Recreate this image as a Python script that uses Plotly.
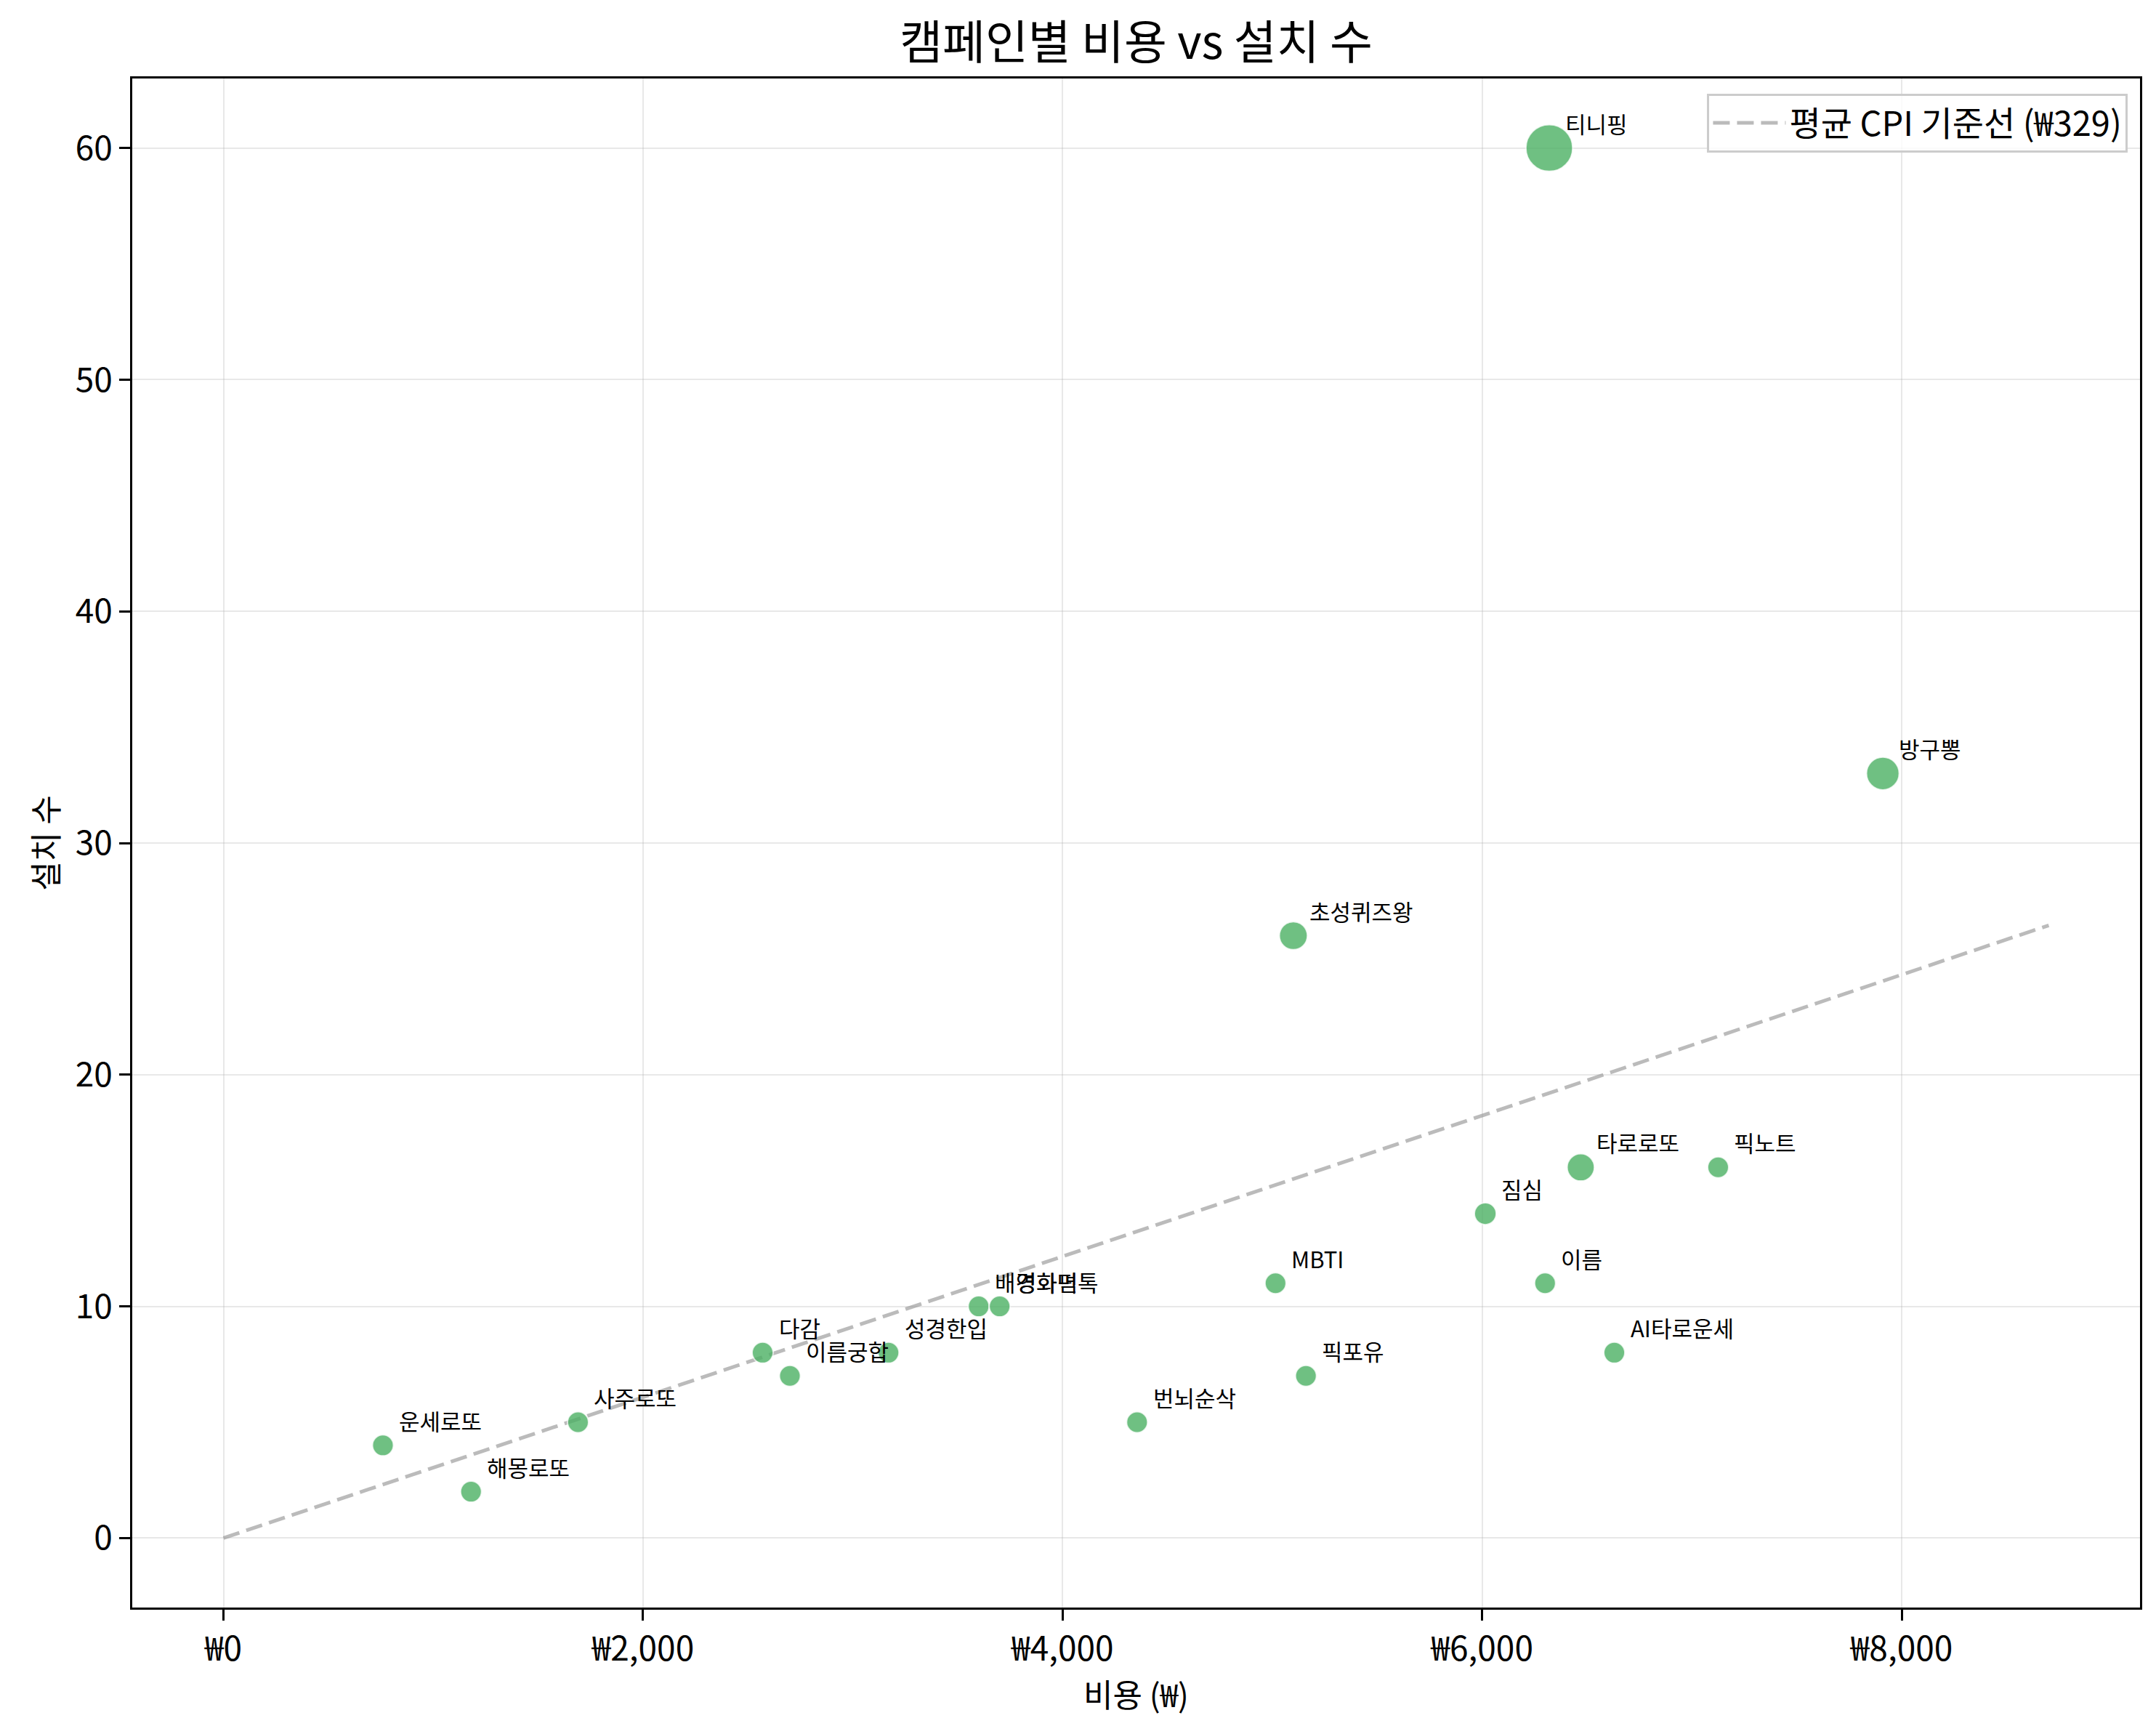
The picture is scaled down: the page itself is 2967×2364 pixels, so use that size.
import plotly.graph_objects as go

# campaign data
campaigns = ['운세로또', '해몽로또', '사주로또', '다감', '이름궁합', '성경한입', '배경화면톡', '영화픽',
             'MBTI', '번뇌순삭', '픽포유', '초성퀴즈왕', '짐심', '이름', '타로로또', 'AI타로운세',
             '픽노트', '방구뽕', '티니핑']
costs = [760, 1180, 1690, 2570, 2700, 3170, 3600, 3700,
         5015, 4355, 5160, 5100, 6015, 6300, 6470, 6630,
         7125, 7910, 6320]
installs = [4, 2, 5, 8, 7, 8, 10, 10,
            11, 5, 7, 26, 14, 11, 16, 8,
            16, 33, 60]
# relative bubble weight (area)
weights = [1.0, 1.0, 1.0, 1.0, 1.0, 1.0, 1.0, 1.0,
           1.0, 1.0, 1.0, 1.78, 1.08, 1.0, 1.68, 1.0,
           1.0, 2.42, 4.94]
avg_cpi = 329
x_ticks = [0, 2000, 4000, 6000, 8000]
y_ticks = [0, 10, 20, 30, 40, 50, 60]

FONT = 'Noto Sans CJK KR'

line_end = max(costs) * 1.1
sizes = [29 * w ** 0.5 for w in weights]

fig = go.Figure()

fig.add_trace(go.Scatter(
    x=[0, line_end], y=[0, line_end / avg_cpi],
    mode='lines',
    line=dict(color='rgba(150,150,150,0.65)', width=5, dash='23px,10px'),
    name=f'평균 CPI 기준선 (₩{avg_cpi})',
    showlegend=True,
))

fig.add_trace(go.Scatter(
    x=costs, y=installs,
    mode='markers',
    marker=dict(size=sizes, color='rgb(76,177,100)', opacity=0.8,
                line=dict(color='rgba(255,255,255,0.8)', width=2)),
    showlegend=False,
))

for name, c, n in zip(campaigns, costs, installs):
    fig.add_annotation(x=c, y=n, text=name, showarrow=False,
                       xanchor='left', yanchor='bottom', xshift=20, yshift=10,
                       font=dict(family=FONT, size=31, color='black'))

fig.update_layout(
    width=2967, height=2364,
    paper_bgcolor='white', plot_bgcolor='white',
    margin=dict(l=174, r=30, t=100, b=160),
    font=dict(family=FONT, color='black'),
    title=dict(text='캠페인별 비용 vs 설치 수', xref='paper', x=0.5, xanchor='center',
               y=0.988, yanchor='top', font=dict(size=64, family=FONT)),
    legend=dict(x=0.994, xanchor='right', y=0.99, yanchor='top',
                bgcolor='rgba(255,255,255,0.8)', bordercolor='#cccccc', borderwidth=3,
                itemwidth=100, font=dict(size=47, family=FONT)),
)

fig.update_xaxes(
    range=[-435, 9136], tickvals=x_ticks, ticktext=[f'₩{v:,}' for v in x_ticks],
    showgrid=True, gridcolor='rgba(180,180,180,0.3)', gridwidth=2,
    zeroline=False, showline=True, linecolor='black', linewidth=3, mirror=True,
    ticks='outside', ticklen=15, tickwidth=3, tickcolor='black',
    tickfont=dict(size=46), title=dict(text='비용 (₩)', font=dict(size=44), standoff=18),
)
fig.update_yaxes(
    range=[-3, 63], tickvals=y_ticks,
    showgrid=True, gridcolor='rgba(180,180,180,0.3)', gridwidth=2,
    zeroline=False, showline=True, linecolor='black', linewidth=3, mirror=True,
    ticks='outside', ticklen=15, tickwidth=3, tickcolor='black',
    tickfont=dict(size=46), title=dict(text='설치 수', font=dict(size=44), standoff=10),
)

fig.write_html('out.html')
